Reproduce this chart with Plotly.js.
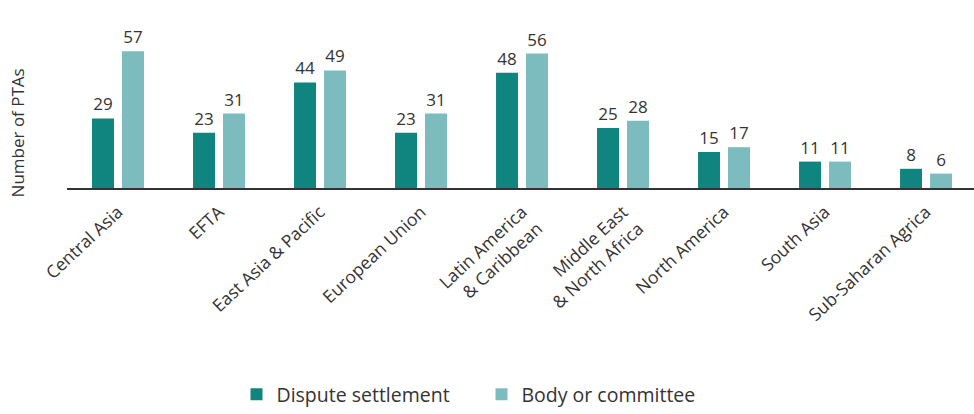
<!DOCTYPE html>
<html>
<head>
<meta charset="utf-8">
<script src="https://cdn.plot.ly/plotly-3.0.1.min.js"></script>
<style>html,body{margin:0;padding:0;background:#fff;}#chart{width:974px;height:414px;}</style>
</head>
<body>
<div id="chart"></div>
<script>
const categories = ["Central Asia", "EFTA", "East Asia & Pacific", "European Union", "Latin America<br>& Caribbean", "Middle East<br>& North Africa", "North America", "South Asia", "Sub-Saharan Agrica"];
const disputeSettlement = [29, 23, 44, 23, 48, 25, 15, 11, 8];
const bodyOrCommittee = [57, 31, 49, 31, 56, 28, 17, 11, 6];
const seriesNames = ["Dispute settlement", "Body or committee"];

const font = "'Open Sans', 'Noto Sans', sans-serif";
const traces = [
  {type: "bar", x: categories, y: disputeSettlement, name: seriesNames[0],
   marker: {color: "#10857f"}, text: disputeSettlement.map(String), textposition: "outside",
   textfont: {size: 17, color: "#333", family: font}, cliponaxis: false},
  {type: "bar", x: categories, y: bodyOrCommittee, name: seriesNames[1],
   marker: {color: "#7dbcbe"}, text: bodyOrCommittee.map(String), textposition: "outside",
   textfont: {size: 17, color: "#333", family: font}, cliponaxis: false}
];
const layout = {
  width: 974, height: 414,
  margin: {l: 67, r: 0, t: 44, b: 226},
  barmode: "group", bargap: 0.406, bargroupgap: 0.267,
  paper_bgcolor: "#fff", plot_bgcolor: "#fff",
  font: {family: font, color: "#333"},
  xaxis: {type: "category", range: [-0.505, 8.475], tickangle: -43,
    tickfont: {size: 17.5, color: "#333", family: font}, showline: true, linecolor: "#333", linewidth: 2,
    ticks: "outside", ticklen: 5, tickcolor: "rgba(0,0,0,0)", showgrid: false, automargin: false},
  yaxis: {range: [0, 60], showticklabels: false, showgrid: false, zeroline: false, ticks: "", automargin: false},
  showlegend: true,
  legend: {orientation: "h", x: 0.457, xanchor: "center", y: -1.44, yanchor: "middle",
    font: {size: 19.5, color: "#333", family: font}, itemwidth: 30, traceorder: "normal",
    entrywidth: 200, entrywidthmode: "pixels"},
  annotations: [{text: "Number of PTAs", xref: "paper", yref: "paper", x: -0.055, y: 0.38,
    xanchor: "center", yanchor: "middle", textangle: -90, showarrow: false,
    font: {size: 17, color: "#333", family: font}}]
};
Plotly.newPlot("chart", traces, layout, {displayModeBar: false});
</script>
</body>
</html>
